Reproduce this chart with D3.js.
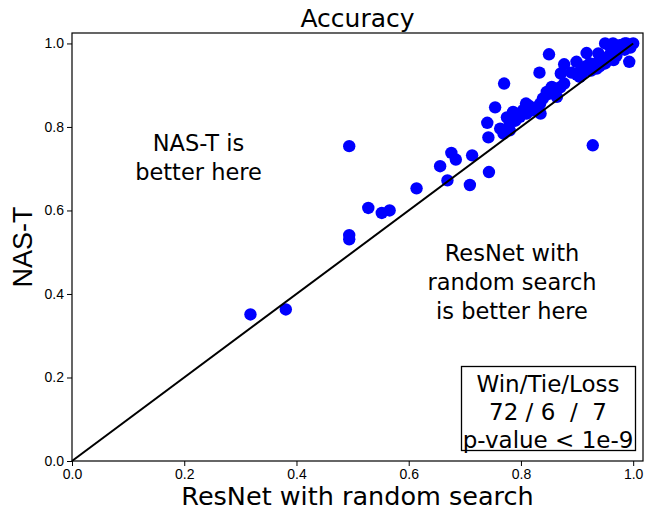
<!DOCTYPE html>
<html>
<head>
<meta charset="utf-8">
<script src="https://cdn.jsdelivr.net/npm/d3@7"></script>
<style>
  html, body { margin: 0; padding: 0; background: #fff; }
  svg { display: block; }
  text { white-space: pre; }
</style>
</head>
<body>
<svg id="chart" width="645" height="512"></svg>
<script>
// ---- data ----
const resnetAcc = [
  0.318,0.381,0.494,0.494,0.494,0.528,0.552,0.566,0.614,0.656,
  0.676,0.684,0.669,0.709,0.713,0.742,0.743,0.770,0.754,0.740,
  0.763,0.775,0.769,0.780,0.789,0.798,0.809,0.810,0.835,0.834,
  0.839,0.849,0.860,0.877,0.864,0.850,0.833,0.877,0.871,0.899,
  0.905,0.917,0.923,0.935,0.938,0.950,0.950,0.964,0.970,0.976,
  0.988,1.000,0.993,0.955,0.846,0.855,0.804,0.786,0.928,
  0.900,0.910,0.915,0.925,0.930,0.940,0.945,0.960,0.965,0.980,
  0.985,0.990,0.995,0.970,0.960,0.985,0.940,0.905,0.820,0.800,
  0.780,0.790,0.815,0.825,0.870,0.890
];
const nastAcc = [
  0.351,0.363,0.754,0.541,0.531,0.606,0.594,0.600,0.653,0.706,
  0.738,0.722,0.672,0.661,0.732,0.775,0.692,0.904,0.847,0.810,
  0.796,0.823,0.784,0.792,0.832,0.824,0.856,0.832,0.832,0.855,
  0.868,0.879,0.892,0.904,0.872,0.974,0.930,0.950,0.928,0.956,
  0.932,0.977,0.952,0.940,0.976,1.000,0.952,1.000,0.984,0.996,
  1.000,1.000,0.956,0.968,0.884,0.896,0.840,0.836,0.756,
  0.925,0.930,0.945,0.935,0.950,0.960,0.955,0.975,0.960,0.990,
  0.985,0.995,0.990,0.970,0.990,1.000,0.945,0.920,0.840,0.830,
  0.810,0.815,0.850,0.845,0.895,0.930
];
const tickValues = [0.0, 0.2, 0.4, 0.6, 0.8, 1.0];
const titleText = "Accuracy";
const xLabelText = "ResNet with random search";
const yLabelText = "NAS-T";
const upperNote = ["NAS-T is", "better here"];
const lowerNote = ["ResNet with", "random search", "is better here"];
const boxLines = ["Win/Tie/Loss", "72 / 6  /  7", "p-value < 1e-9"];

// ---- layout ----
const svg = d3.select("#chart");
const L = 72, R = 643, T = 33, B = 461;
const x = d3.scaleLinear().domain([0, 1.0175]).range([L, R]);
const y = d3.scaleLinear().domain([0, 1.025]).range([B, T]);
const tickFont = "'Liberation Sans', Arial, sans-serif";
const textFont = "'DejaVu Sans', sans-serif";

// points
const pts = d3.zip(resnetAcc, nastAcc);
svg.append("g").selectAll("circle").data(pts).join("circle")
  .attr("cx", d => x(d[0])).attr("cy", d => y(d[1]))
  .attr("r", 6.2).attr("fill", "#0000ff");

// diagonal
svg.append("line")
  .attr("x1", x(0)).attr("y1", y(0)).attr("x2", x(1)).attr("y2", y(1))
  .attr("stroke", "#000").attr("stroke-width", 2);

// axes
const fmt = d3.format(".1f");
const xAxis = svg.append("g").attr("transform", `translate(0,${B})`)
  .call(d3.axisBottom(x).tickValues(tickValues).tickFormat(fmt).tickSize(5).tickPadding(3));
const yAxis = svg.append("g").attr("transform", `translate(${L},0)`)
  .call(d3.axisLeft(y).tickValues(tickValues).tickFormat(fmt).tickSize(5).tickPadding(3));
[xAxis, yAxis].forEach(g => {
  g.select(".domain").remove();
  g.selectAll("line").attr("stroke", "#000").attr("stroke-width", 1);
  g.selectAll("text").attr("font-family", tickFont).attr("font-size", 14).attr("fill", "#000");
});

// frame
svg.append("rect").attr("x", L).attr("y", T).attr("width", R - L).attr("height", B - T)
  .attr("fill", "none").attr("stroke", "#000").attr("stroke-width", 1.2);

// title
svg.append("text").attr("x", (L + R) / 2).attr("y", 27).attr("text-anchor", "middle")
  .attr("font-family", textFont).attr("font-size", 25).text(titleText);

// x label
svg.append("text").attr("x", (L + R) / 2).attr("y", 505).attr("text-anchor", "middle")
  .attr("font-family", textFont).attr("font-size", 25.5).text(xLabelText);

// y label
svg.append("text").attr("transform", `translate(32,${(T + B) / 2}) rotate(-90)`)
  .attr("text-anchor", "middle")
  .attr("font-family", tickFont).attr("font-size", 27).text(yLabelText);

// notes
svg.append("text").attr("text-anchor", "middle").attr("font-family", textFont).attr("font-size", 22.5)
  .selectAll("tspan").data(upperNote).join("tspan")
  .attr("x", 198.5).attr("y", (d, i) => 151 + i * 29).text(d => d);

svg.append("text").attr("text-anchor", "middle").attr("font-family", textFont).attr("font-size", 22.5)
  .selectAll("tspan").data(lowerNote).join("tspan")
  .attr("x", 512).attr("y", (d, i) => 261 + i * 29).text(d => d);

// box
svg.append("rect").attr("x", 461.5).attr("y", 366.5).attr("width", 174).attr("height", 84)
  .attr("fill", "#fff").attr("stroke", "#000").attr("stroke-width", 1.3);
svg.append("text").attr("text-anchor", "middle").attr("font-family", textFont).attr("font-size", 23)
  .selectAll("tspan").data(boxLines).join("tspan")
  .attr("x", 548).attr("y", (d, i) => 392 + i * 28).text(d => d);
</script>
</body>
</html>
